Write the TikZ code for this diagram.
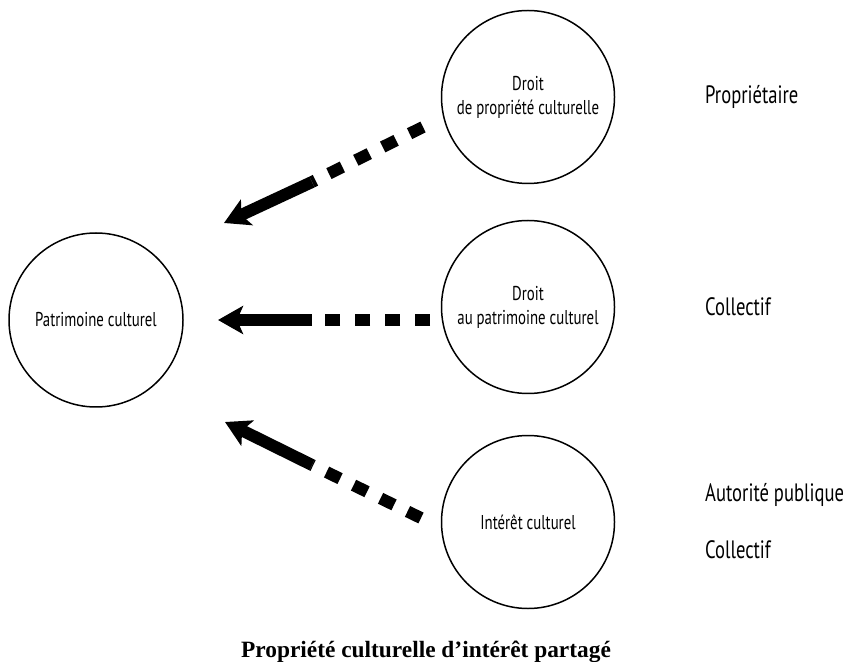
\documentclass[tikz,border=0pt]{standalone}
\usepackage{fontspec}
\setmainfont{Liberation Serif}
\newfontfamily\condsans[FakeStretch=0.74]{PT Sans}
\usetikzlibrary{arrows.meta}

\begin{document}
\begin{tikzpicture}[
    circ/.style={draw, circle, line width=0.85pt, minimum size=3.46cm, inner sep=0pt, align=center,
        font=\condsans\fontsize{11.4}{13.7}\selectfont},
    sidetext/.style={anchor=west, font=\condsans\fontsize{14.3}{16}\selectfont},
    dashpart/.style={line width=0.24cm, dash pattern=on 0.3cm off 0.3cm},
    solidpart/.style={line width=0.24cm, -{Stealth[length=0.5cm, width=0.56cm, inset=0.12cm]}}
]
    \useasboundingbox (0,0) rectangle (16.9,13.22);

    % circles
    \node[circ, minimum size=3.48cm] (patrimoine) at (1.92,6.82) {Patrimoine culturel};
    \node[circ] (propriete) at (10.56,11.28) {Droit\\de propriété culturelle};
    \node[circ] (droitpat) at (10.56,7.08) {Droit\\au patrimoine culturel};
    \node[circ] (interet) at (10.56,2.78) {Intérêt culturel};

    % right column
    \node[sidetext] (proprietaire) at (13.98,11.28) {Propriétaire};
    \node[sidetext] (collectifa) at (13.98,7.08) {Collectif};
    \node[sidetext] (autorite) at (13.98,3.32) {Autorité publique};
    \node[sidetext] (collectifb) at (13.98,2.22) {Collectif};

    % arrows
    \coordinate (propstart) at (8.46,10.68);
    \coordinate (propmid) at (6.24,9.58);
    \coordinate (proptip) at (4.48,8.76);
    \draw[dashpart] (propstart) -- (propmid);
    \draw[solidpart] (propmid) -- (proptip);

    \coordinate (patstart) at (8.60,6.82);
    \coordinate (patmid) at (6.24,6.82);
    \coordinate (pattip) at (4.36,6.82);
    \draw[dashpart] (patstart) -- (patmid);
    \draw[solidpart] (patmid) -- (pattip);

    \coordinate (intstart) at (8.42,2.86);
    \coordinate (intmid) at (6.24,3.92);
    \coordinate (inttip) at (4.50,4.78);
    \draw[dashpart] (intstart) -- (intmid);
    \draw[solidpart] (intmid) -- (inttip);

    % caption
    \node[anchor=base, inner sep=0pt, font=\bfseries\fontsize{13.3}{15}\selectfont] (titre) at (8.52,0.08) {Propriété culturelle d’intérêt partagé};
\end{tikzpicture}
\end{document}
